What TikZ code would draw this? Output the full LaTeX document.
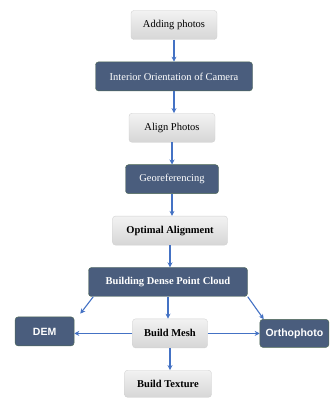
\documentclass[tikz,border=0pt]{standalone}
\usepackage{fontspec}
\setmainfont{Liberation Serif}
\newfontfamily\labelsans{Liberation Sans}
\usetikzlibrary{arrows.meta,positioning}
\definecolor{slate}{HTML}{4A5D7D}
\definecolor{slateedge}{HTML}{4F6A55}
\definecolor{flowblue}{HTML}{4472C4}

\begin{document}
\begin{tikzpicture}[
      node distance=22pt and 55pt,
      every node/.style={font=\fontsize{10.5}{12}\selectfont},
      greybox/.style={draw=gray!35, rounded corners=3pt, align=center, minimum height=29pt,
                      top color=gray!10, bottom color=gray!32, text=black},
      darkbox/.style={draw=slateedge, rounded corners=3pt, align=center, minimum height=29pt,
                      fill=slate, text=white},
      ar/.style={-{Stealth[length=5pt,width=5pt]}, flowblue, line width=1.1pt}
    ]
    \useasboundingbox (0,0) rectangle (329pt,398pt);
    \node[greybox, minimum width=86pt] (add) at (174pt,373pt) {Adding photos};
    \node[darkbox, minimum width=157pt, below=of add] (ior) {Interior Orientation of Camera};
    \node[greybox, minimum width=86pt, below=of ior, xshift=-2pt] (align) {Align Photos};
    \node[darkbox, minimum width=93pt, below=of align] (geo) {Georeferencing};
    \node[greybox, minimum width=115pt, below=of geo, xshift=-2pt] (opt) {\bfseries Optimal Alignment};
    \node[darkbox, minimum width=159pt, below=of opt, xshift=-2pt] (dense) {\bfseries Building Dense Point Cloud};
    \node[greybox, minimum width=75pt, below=of dense, xshift=2pt] (mesh) {\bfseries Build Mesh};
    \node[greybox, minimum width=87pt, minimum height=27pt, below=of mesh, xshift=-2pt] (tex) {\bfseries Build Texture};
    \node[darkbox, minimum width=59pt, left=58pt of mesh, yshift=2pt] (dem) {\labelsans\bfseries DEM};
    \node[darkbox, minimum width=69pt, minimum height=28pt, right=52pt of mesh] (ortho) {\labelsans\bfseries Orthophoto};
    % vertical chain
    \draw[ar] (add.south) -- (add.south |- ior.north);
    \draw[ar] (ior.south) -- (ior.south |- align.north);
    \draw[ar] (align.south) -- (align.south |- geo.north);
    \draw[ar] (geo.south) -- (geo.south |- opt.north);
    \draw[ar] (opt.south) -- (opt.south |- dense.north);
    \draw[ar] (dense.south) -- (dense.south |- mesh.north);
    \draw[ar] (mesh.south) -- (mesh.south |- tex.north);
    % side branches
    \draw[ar] (mesh.west) -- (mesh.west -| dem.east);
    \draw[ar] (mesh.east) -- (mesh.east -| ortho.west);
    \draw[ar] ([xshift=5pt]dense.south west) -- ([xshift=6pt,yshift=3pt]dem.north east);
    \draw[ar] (dense.south east) -- ([xshift=4pt]ortho.north west);
  \end{tikzpicture}
\end{document}
